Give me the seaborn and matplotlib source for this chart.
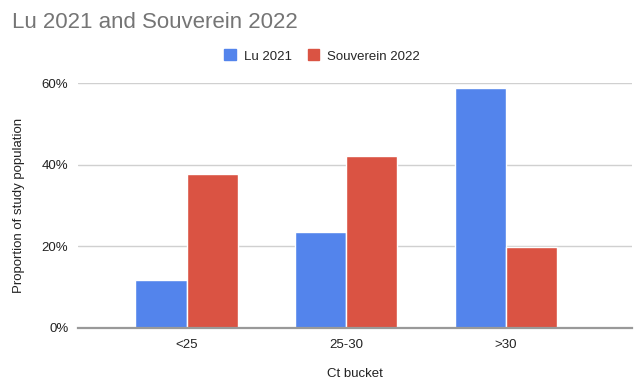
import pandas as pd
import matplotlib.pyplot as plt
import seaborn as sns

# Data
buckets = ['<25', '25-30', '>30']
lu_2021 = [11.7, 23.4, 58.7]
souverein_2022 = [37.6, 42.2, 19.9]
series = ['Lu 2021', 'Souverein 2022']
yticks = [0, 20, 40, 60]
ytick_labels = ['0%', '20%', '40%', '60%']

df = pd.DataFrame({
    'bucket': buckets * 2,
    'value': lu_2021 + souverein_2022,
    'study': [series[0]] * 3 + [series[1]] * 3,
})

sns.set_style('white')
plt.rcParams['font.family'] = ['Liberation Sans', 'DejaVu Sans']

fig = plt.figure(figsize=(6.43, 3.92), dpi=100)
ax = fig.add_axes([78 / 643, 1 - 328 / 392, (632 - 78) / 643, (328 - 83) / 392])

sns.barplot(data=df, x='bucket', y='value', hue='study', order=buckets,
            hue_order=series, palette=['#5384EC', '#DA5343'], width=0.64,
            edgecolor='white', linewidth=1, saturation=1, ax=ax, legend=False)

ax.set_xlim(-0.68, 2.79)
ax.set_ylim(0, 60)
ax.set_yticks(yticks)
ax.set_yticklabels(ytick_labels)
ax.yaxis.grid(True, color='#d0d0d0', linewidth=1)
ax.set_axisbelow(True)
for s in ['top', 'right', 'left']:
    ax.spines[s].set_visible(False)
ax.spines['bottom'].set_color('#999999')
ax.spines['bottom'].set_linewidth(1.6)
ax.tick_params(axis='both', length=0, labelsize=9.5, colors='#222222')
ax.tick_params(axis='y', pad=7)
ax.tick_params(axis='x', pad=8)

ax.set_xlabel('Ct bucket', fontsize=9.5, color='#222222', labelpad=12)
ax.set_ylabel('Proportion of study population', fontsize=9.5, color='#222222', labelpad=12)

fig.text(12 / 643, 1 - 22 / 392, 'Lu 2021 and Souverein 2022', fontsize=16,
         color='#757575', va='center', ha='left')

handles = [plt.Rectangle((0, 0), 1, 1, color=c) for c in ['#5384EC', '#DA5343']]
fig.legend(handles, series, loc='center', bbox_to_anchor=(322 / 643, 1 - 56 / 392),
           ncol=2, frameon=False, fontsize=9.5, handlelength=0.9, handleheight=0.9,
           handletextpad=0.6, columnspacing=1.2)

fig.savefig('out.png', dpi=100)
